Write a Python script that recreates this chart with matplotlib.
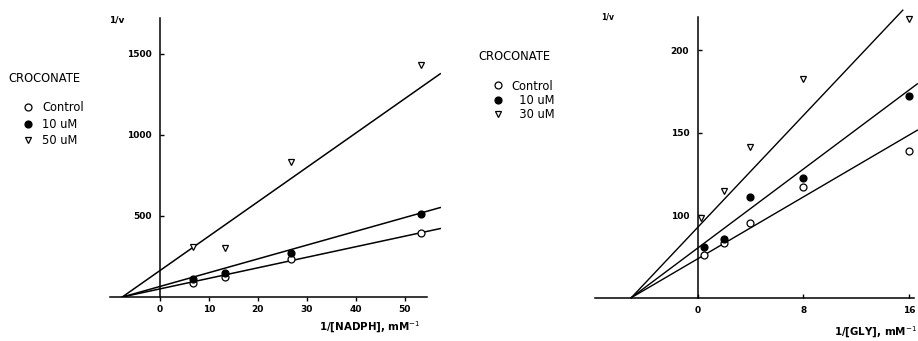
import matplotlib
matplotlib.use("Agg")
import matplotlib.pyplot as plt
import numpy as np

plt.rcParams['font.family'] = ['DejaVu Sans']

# ---------------- data: left panel (1/[NADPH]) ----------------
nadph_x = [6.67, 13.3, 26.7, 53.3]
nadph_control = [88, 125, 232, 393]
nadph_10uM = [109, 146, 270, 512]
nadph_50uM = [310, 300, 831, 1432]
nadph_labels = ["Control", "10 uM", "50 uM"]
# fitted lines (intercept at x=0, slope) and x-range of the drawn line
nadph_fit_intercept = [50, 65, 163]
nadph_fit_slope = [6.5, 8.5, 21.2]
nadph_fit_xrange = [-7.7, 57.3]
nadph_xticks = [0, 10, 20, 30, 40, 50]
nadph_yticks = [500, 1000, 1500]

# ---------------- data: right panel (1/[GLY]) ----------------
gly_x = [0.5, 2, 4, 8, 16]
gly_control = [75.9, 83.3, 95.5, 116.9, 138.9]
gly_10uM = [80.5, 85.4, 110.8, 122.7, 172.4]
gly_30uM_x = [0.3, 2, 4, 8, 16]
gly_30uM = [98.1, 114.8, 141.5, 182.5, 218.9]
gly_labels = ["Control", "  10 uM", "  30 uM"]
gly_fit_intercept = [73.5, 80.0, 92.5]
gly_fit_slope = [4.7, 6.0, 8.5]
gly_fit_xend = [16.6, 16.6, 15.5]
gly_fit_xstart = -5.0
gly_xticks = [0, 8, 16]
gly_yticks = [100, 150, 200]

W, H = 918, 341
fig = plt.figure(figsize=(W / 100, H / 100), dpi=100)

def fx(px):
    return px / W

def fy(py):
    return 1 - py / H

tick_font = dict(fontsize=6.5, fontweight='bold')
text_font = dict(fontsize=8.3)

marker_styles = [
    dict(marker='o', mfc='white', mec='black', mew=0.9, ms=5.0),
    dict(marker='o', mfc='black', mec='black', mew=0.9, ms=5.0),
    dict(marker='v', mfc='white', mec='black', mew=0.9, ms=5.0),
]

# ---------------- left axes ----------------
axL = fig.add_axes([fx(110), fy(297), fx(441.7) - fx(110), (297 - 18) / H])
axL.set_xlim(-10.2, 57.6)
axL.set_ylim(0, 1722)
series_L = [nadph_control, nadph_10uM, nadph_50uM]
handlesL = []
for ys, st, lab in zip(series_L, marker_styles, nadph_labels):
    h, = axL.plot(nadph_x, ys, ls='none', label=lab, zorder=3, **st)
    handlesL.append(h)
for b, m in zip(nadph_fit_intercept, nadph_fit_slope):
    xs = np.array(nadph_fit_xrange)
    axL.plot(xs, b + m * xs, color='black', lw=1.1, zorder=2)

axL.spines['top'].set_visible(False)
axL.spines['right'].set_visible(False)
axL.spines['left'].set_position(('data', 0))
axL.spines['bottom'].set_position(('data', 0))
axL.spines['bottom'].set_bounds(-10.2, 54.5)
for s in ('left', 'bottom'):
    axL.spines[s].set_linewidth(1.1)
axL.set_xticks(nadph_xticks)
axL.set_xticklabels([str(t) for t in nadph_xticks], **tick_font)
axL.set_yticks(nadph_yticks)
axL.set_yticklabels([str(t) for t in nadph_yticks], **tick_font)
axL.tick_params(axis='x', direction='out', length=3, width=1, pad=3)
axL.tick_params(axis='y', direction='in', length=3, width=1, pad=6)

fig.text(fx(117), fy(20), "1/v", ha='center', va='center', fontsize=6.5, fontweight='bold')
fig.text(fx(421), fy(327), "1/[NADPH], mM$^{-1}$", ha='right', va='center',
         fontsize=7.4, fontweight='bold')
fig.text(fx(8), fy(78), "CROCONATE", ha='left', va='center', **text_font)
legL = fig.legend(handles=handlesL, labels=nadph_labels, loc='upper left',
                  bbox_to_anchor=(fx(21), fy(101.5)), frameon=False,
                  fontsize=8.3, handlelength=1.2, handletextpad=0.65,
                  labelspacing=0.27, borderpad=0, borderaxespad=0)

# ---------------- right axes ----------------
axR = fig.add_axes([fx(595), fy(297.7), fx(918) - fx(595), (297.7 - 7.3) / H])
axR.set_xlim(-7.74, 16.65)
axR.set_ylim(50, 226)
handlesR = []
series_R = [(gly_x, gly_control), (gly_x, gly_10uM), (gly_30uM_x, gly_30uM)]
for (xs, ys), st, lab in zip(series_R, marker_styles, gly_labels):
    h, = axR.plot(xs, ys, ls='none', label=lab, zorder=3, clip_on=False, **st)
    handlesR.append(h)
for b, m, xe in zip(gly_fit_intercept, gly_fit_slope, gly_fit_xend):
    xs = np.array([gly_fit_xstart, xe])
    axR.plot(xs, b + m * xs, color='black', lw=1.0, zorder=2, clip_on=False)

axR.spines['top'].set_visible(False)
axR.spines['right'].set_visible(False)
axR.spines['left'].set_position(('data', 0))
axR.spines['left'].set_bounds(50, 220)
axR.spines['bottom'].set_bounds(-7.74, 16.35)
for s in ('left', 'bottom'):
    axR.spines[s].set_linewidth(1.1)
axR.set_xticks(gly_xticks)
axR.set_xticklabels([str(t) for t in gly_xticks], **tick_font)
axR.set_yticks(gly_yticks)
axR.set_yticklabels([str(t) for t in gly_yticks], **tick_font)
axR.tick_params(axis='x', direction='in', length=3, width=1, pad=6)
axR.tick_params(axis='y', direction='in', length=3, width=1, pad=6)

fig.text(fx(608), fy(17), "1/v", ha='center', va='center', fontsize=5.5, fontweight='bold')
fig.text(fx(917), fy(332), "1/[GLY], mM$^{-1}$", ha='right', va='center',
         fontsize=7.4, fontweight='bold')
fig.text(fx(478), fy(57), "CROCONATE", ha='left', va='center', **text_font)
legR = fig.legend(handles=handlesR, labels=gly_labels, loc='upper left',
                  bbox_to_anchor=(fx(491), fy(79.5)), frameon=False,
                  fontsize=8.3, handlelength=1.2, handletextpad=0.6,
                  labelspacing=0.1, borderpad=0, borderaxespad=0)

fig.save_path = None
fig.savefig("out.png", dpi=100, facecolor='white')
